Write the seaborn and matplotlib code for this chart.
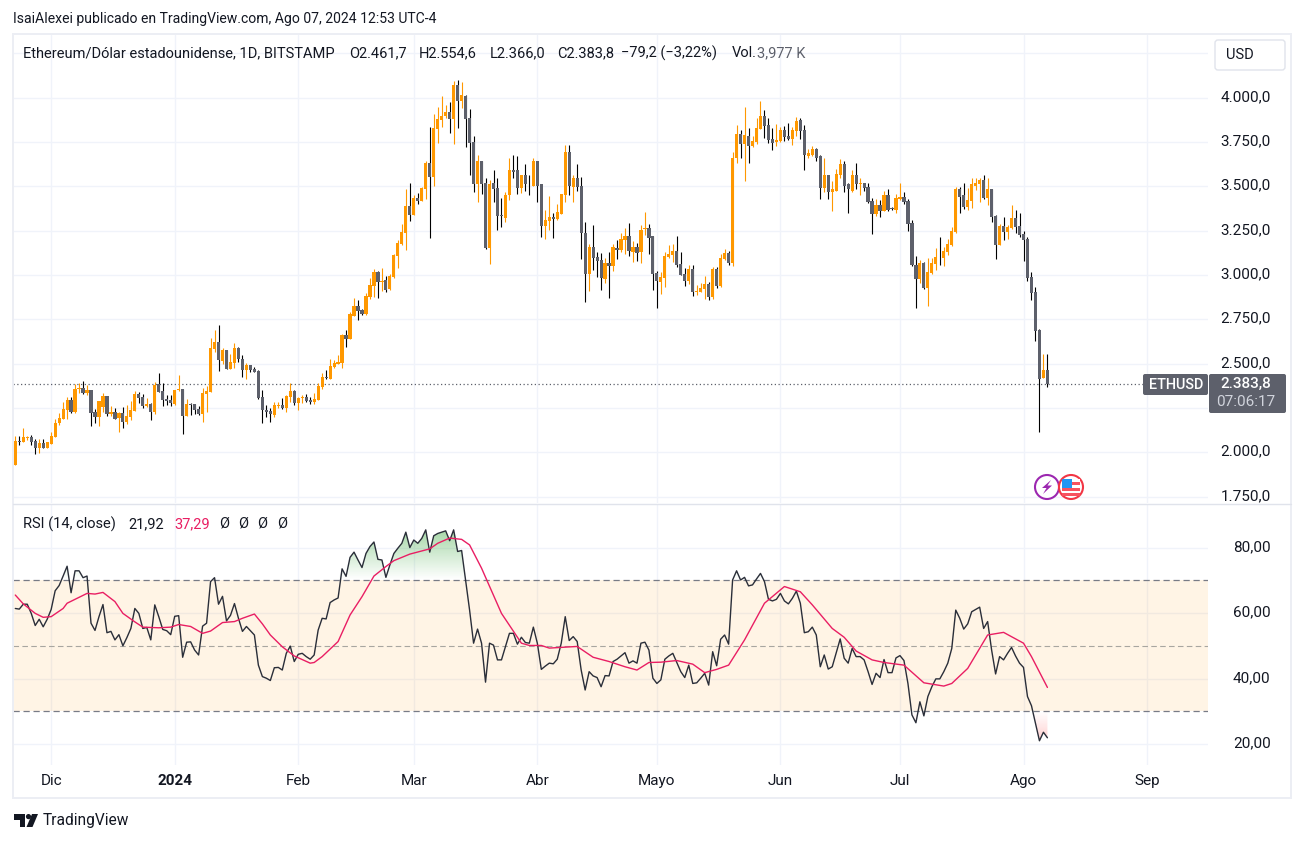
import numpy as np
import pandas as pd
import matplotlib
matplotlib.use("Agg")
import matplotlib.pyplot as plt
import matplotlib.dates as mdates
from matplotlib.patches import Rectangle, FancyBboxPatch, Circle, Polygon
from matplotlib.colors import LinearSegmentedColormap
from matplotlib.transforms import ScaledTranslation
import seaborn as sns

# ETH/USD daily candles (22 Nov 2023 -> 7 Aug 2024)
opens = [
    1929, 2064, 2058, 2083, 2085, 2064, 2024, 2053, 2024, 2047,
    2087, 2165, 2188, 2239, 2295, 2228, 2359, 2363, 2335, 2352,
    2228, 2199, 2256, 2318, 2216, 2228, 2194, 2222, 2171, 2199,
    2233, 2329, 2312, 2261, 2273, 2228, 2385, 2346, 2301, 2295,
    2273, 2350, 2357, 2205, 2275, 2273, 2244, 2216, 2329, 2340,
    2583, 2622, 2515, 2577, 2470, 2504, 2588, 2526, 2464, 2493,
    2470, 2459, 2312, 2239, 2233, 2211, 2261, 2267, 2250, 2312,
    2346, 2278, 2308, 2312, 2295, 2284, 2295, 2369, 2423, 2414,
    2481, 2498, 2504, 2662, 2640, 2769, 2825, 2803, 2780, 2876,
    2938, 3018, 2961, 2972, 2922, 2989, 3108, 3176, 3238, 3391,
    3340, 3436, 3419, 3487, 3634, 3555, 3821, 3872, 3894, 3917,
    3877, 4070, 3979, 4007, 3883, 3747, 3515, 3645, 3521, 3153,
    3521, 3493, 3340, 3323, 3453, 3594, 3589, 3493, 3561, 3515,
    3504, 3645, 3510, 3278, 3306, 3329, 3317, 3346, 3453, 3696,
    3498, 3549, 3504, 3238, 3006, 3159, 3103, 3086, 2978, 3069,
    3052, 3153, 3142, 3199, 3221, 3131, 3159, 3131, 3261, 3267,
    3221, 3012, 2961, 2984, 3102, 3114, 3136, 3063, 3007, 2967,
    3035, 2905, 2905, 2922, 2950, 2876, 3035, 2939, 3091, 3125,
    3069, 3662, 3793, 3736, 3781, 3725, 3747, 3821, 3894, 3843,
    3764, 3747, 3753, 3815, 3781, 3764, 3809, 3872, 3815, 3668,
    3679, 3708, 3668, 3493, 3561, 3465, 3476, 3561, 3623, 3510,
    3476, 3561, 3510, 3521, 3498, 3419, 3346, 3397, 3363, 3448,
    3378, 3368, 3431, 3442, 3419, 3295, 3057, 2978, 3069, 2927,
    3012, 3063, 3103, 3097, 3131, 3170, 3244, 3487, 3448, 3385,
    3419, 3504, 3515, 3538, 3436, 3487, 3334, 3170, 3278, 3244,
    3267, 3323, 3278, 3233, 3204, 2989, 2905, 2690, 2418, 2461.7,
]
highs = [
    2092, 2092, 2137, 2094, 2098, 2075, 2075, 2075, 2058, 2115,
    2188, 2222, 2284, 2312, 2312, 2385, 2391, 2402, 2380, 2352,
    2244, 2290, 2335, 2318, 2261, 2250, 2228, 2256, 2267, 2290,
    2346, 2340, 2329, 2306, 2278, 2397, 2447, 2391, 2323, 2323,
    2352, 2436, 2357, 2301, 2278, 2273, 2261, 2363, 2374, 2645,
    2690, 2718, 2588, 2577, 2555, 2617, 2594, 2549, 2504, 2493,
    2481, 2464, 2352, 2267, 2250, 2284, 2284, 2306, 2323, 2391,
    2352, 2312, 2323, 2329, 2312, 2335, 2391, 2447, 2464, 2526,
    2521, 2549, 2667, 2690, 2791, 2871, 2859, 2808, 2899, 2984,
    3035, 3023, 3040, 2995, 3006, 3119, 3199, 3289, 3487, 3521,
    3453, 3464, 3498, 3645, 3832, 3905, 3945, 4007, 3956, 3973,
    4092, 4098, 4086, 4013, 3934, 3781, 3679, 3645, 3549, 3538,
    3589, 3549, 3436, 3470, 3662, 3679, 3668, 3566, 3623, 3566,
    3657, 3645, 3510, 3368, 3447, 3351, 3402, 3459, 3730, 3730,
    3566, 3623, 3555, 3300, 3176, 3283, 3131, 3125, 3097, 3131,
    3176, 3199, 3238, 3267, 3295, 3193, 3182, 3283, 3357, 3289,
    3221, 3023, 3018, 3131, 3170, 3176, 3221, 3131, 3040, 3057,
    3057, 2944, 2956, 2995, 2961, 3046, 3046, 3120, 3148, 3137,
    3696, 3843, 3815, 3945, 3826, 3781, 3883, 3979, 3928, 3883,
    3826, 3849, 3832, 3838, 3855, 3832, 3889, 3883, 3843, 3708,
    3725, 3713, 3674, 3657, 3561, 3532, 3595, 3651, 3640, 3521,
    3589, 3629, 3549, 3521, 3521, 3436, 3431, 3425, 3476, 3487,
    3385, 3459, 3521, 3465, 3431, 3312, 3108, 3086, 3074, 3097,
    3097, 3153, 3216, 3159, 3204, 3272, 3498, 3498, 3521, 3493,
    3544, 3544, 3549, 3566, 3544, 3487, 3340, 3289, 3329, 3284,
    3397, 3368, 3351, 3250, 3216, 3018, 2933, 2695, 2554, 2554.6,
]
lows = [
    1929, 2041, 2058, 2071, 2041, 1991, 1996, 2024, 2024, 2047,
    2087, 2154, 2188, 2188, 2222, 2222, 2335, 2329, 2323, 2149,
    2165, 2149, 2228, 2205, 2205, 2188, 2115, 2137, 2160, 2182,
    2233, 2278, 2250, 2256, 2182, 2216, 2340, 2261, 2267, 2261,
    2267, 2346, 2103, 2205, 2211, 2216, 2211, 2171, 2228, 2340,
    2566, 2459, 2498, 2470, 2470, 2476, 2510, 2425, 2414, 2453,
    2453, 2301, 2165, 2199, 2171, 2199, 2250, 2244, 2228, 2284,
    2267, 2239, 2278, 2284, 2273, 2273, 2295, 2357, 2414, 2414,
    2476, 2498, 2476, 2594, 2640, 2769, 2746, 2775, 2775, 2865,
    2876, 2871, 2910, 2905, 2916, 2984, 3040, 3170, 3142, 3306,
    3340, 3402, 3419, 3431, 3210, 3504, 3742, 3832, 3883, 3798,
    3736, 3826, 3939, 3719, 3566, 3470, 3414, 3459, 3148, 3063,
    3414, 3255, 3272, 3300, 3425, 3549, 3459, 3464, 3476, 3453,
    3504, 3414, 3216, 3204, 3255, 3210, 3312, 3346, 3414, 3453,
    3414, 3476, 3091, 2848, 2910, 3029, 2989, 2916, 2955, 2871,
    3023, 3091, 3131, 3119, 3108, 3074, 3080, 3069, 3227, 3119,
    2916, 2814, 2893, 2933, 3097, 3074, 3046, 3001, 2939, 2950,
    2882, 2888, 2905, 2865, 2859, 2865, 2927, 2933, 3086, 3057,
    3052, 3629, 3657, 3532, 3634, 3719, 3736, 3821, 3770, 3742,
    3702, 3725, 3747, 3753, 3759, 3730, 3781, 3764, 3589, 3662,
    3668, 3645, 3431, 3465, 3431, 3363, 3476, 3544, 3465, 3351,
    3470, 3487, 3448, 3476, 3408, 3233, 3334, 3329, 3363, 3363,
    3368, 3351, 3425, 3402, 3250, 3052, 2814, 2956, 2922, 2826,
    3007, 3029, 3057, 3052, 3114, 3165, 3238, 3351, 3374, 3368,
    3380, 3481, 3414, 3431, 3397, 3301, 3091, 3170, 3199, 3204,
    3261, 3238, 3216, 3080, 2967, 2859, 2628, 2113, 2418, 2366.0,
]
closes = [
    2064, 2060, 2085, 2087, 2058, 2024, 2053, 2024, 2058, 2092,
    2164, 2194, 2244, 2295, 2228, 2357, 2363, 2335, 2352, 2222,
    2199, 2290, 2318, 2216, 2228, 2188, 2222, 2171, 2205, 2239,
    2329, 2306, 2261, 2273, 2228, 2380, 2340, 2295, 2290, 2278,
    2352, 2357, 2205, 2273, 2269, 2239, 2216, 2335, 2346, 2588,
    2622, 2521, 2577, 2470, 2510, 2588, 2526, 2464, 2493, 2464,
    2453, 2306, 2239, 2228, 2216, 2267, 2267, 2250, 2318, 2346,
    2278, 2306, 2312, 2290, 2284, 2301, 2374, 2425, 2417, 2487,
    2504, 2510, 2662, 2639, 2780, 2825, 2799, 2780, 2882, 2944,
    3018, 2961, 2967, 2916, 2995, 3114, 3182, 3244, 3391, 3340,
    3436, 3419, 3493, 3634, 3555, 3826, 3877, 3894, 3917, 3877,
    4070, 3979, 4013, 3877, 3742, 3515, 3645, 3515, 3153, 3515,
    3487, 3334, 3334, 3453, 3594, 3583, 3493, 3561, 3510, 3510,
    3645, 3504, 3278, 3312, 3329, 3317, 3357, 3459, 3696, 3504,
    3549, 3498, 3238, 3006, 3159, 3097, 3080, 2984, 3069, 3052,
    3159, 3142, 3204, 3221, 3136, 3159, 3125, 3255, 3267, 3210,
    3006, 2967, 2989, 3108, 3119, 3136, 3057, 3001, 2967, 3035,
    2905, 2910, 2927, 2950, 2876, 3035, 2939, 3097, 3125, 3069,
    3662, 3793, 3736, 3787, 3725, 3753, 3826, 3894, 3838, 3759,
    3742, 3759, 3815, 3776, 3764, 3815, 3866, 3809, 3674, 3685,
    3708, 3662, 3493, 3561, 3465, 3482, 3572, 3623, 3504, 3482,
    3561, 3510, 3521, 3493, 3414, 3346, 3397, 3363, 3448, 3368,
    3374, 3436, 3442, 3414, 3289, 3057, 2978, 3069, 2927, 3018,
    3069, 3103, 3099, 3137, 3176, 3250, 3487, 3442, 3385, 3425,
    3510, 3521, 3538, 3436, 3487, 3329, 3170, 3278, 3244, 3272,
    3323, 3272, 3227, 3199, 2984, 2899, 2684, 2413, 2464, 2383.8,
]

rsi_values = [
    61.4, 61.2, 62.7, 62.7, 59.9, 56.2, 58.1, 55.8, 58.1, 61.1,
    66.8, 68.4, 71.3, 74.3, 66.2, 72.9, 72.9, 70.8, 71.3, 56.9,
    54.7, 58.9, 62.6, 54.0, 54.4, 51.8, 53.4, 50.0, 52.5, 55.3,
    61.4, 59.9, 55.3, 55.6, 51.8, 62.5, 58.9, 55.0, 54.6, 53.4,
    59.0, 59.2, 46.5, 51.1, 51.2, 48.7, 47.2, 56.0, 56.9, 69.6,
    70.8, 62.7, 65.1, 57.6, 59.3, 62.9, 58.4, 54.4, 55.9, 54.6,
    53.3, 44.1, 40.6, 40.1, 39.4, 43.3, 43.4, 42.6, 47.7, 49.9,
    45.2, 47.4, 47.7, 46.7, 45.9, 47.2, 54.8, 58.4, 58.2, 63.2,
    64.0, 64.6, 73.5, 71.2, 77.0, 78.6, 76.2, 73.9, 78.2, 80.3,
    81.7, 76.4, 76.2, 70.9, 74.7, 78.2, 79.8, 81.3, 84.7, 80.0,
    82.3, 81.3, 82.8, 85.4, 78.6, 83.6, 84.3, 84.7, 85.1, 82.1,
    85.4, 78.8, 79.1, 70.1, 60.9, 50.8, 55.1, 50.8, 38.9, 50.8,
    50.2, 45.7, 45.7, 49.7, 53.8, 53.8, 50.5, 52.6, 51.0, 50.8,
    55.7, 50.8, 42.8, 43.8, 44.7, 44.5, 45.9, 50.8, 58.9, 51.6,
    52.8, 51.3, 42.6, 36.5, 42.1, 40.8, 40.3, 37.5, 40.9, 40.8,
    45.2, 45.9, 46.9, 47.9, 44.7, 45.4, 44.7, 50.8, 51.1, 48.7,
    40.1, 38.5, 39.6, 45.9, 46.9, 47.7, 44.9, 42.1, 40.3, 44.1,
    38.5, 38.7, 40.1, 41.6, 38.0, 48.2, 43.9, 52.0, 53.3, 50.5,
    70.1, 72.9, 70.1, 70.9, 68.3, 68.6, 70.4, 72.1, 69.6, 64.2,
    63.7, 64.2, 66.0, 63.7, 62.8, 64.5, 66.7, 63.0, 54.0, 54.3,
    55.7, 53.3, 43.6, 47.2, 42.9, 43.6, 47.9, 52.1, 46.2, 44.7,
    49.2, 46.7, 46.7, 45.7, 42.1, 38.2, 41.6, 40.3, 45.8, 41.8,
    41.8, 46.3, 47.0, 45.5, 38.5, 28.9, 26.5, 32.9, 28.6, 34.5,
    37.5, 39.9, 39.9, 42.1, 44.7, 49.2, 60.9, 58.4, 55.1, 56.7,
    60.4, 61.1, 61.8, 55.3, 57.4, 48.7, 41.4, 46.7, 45.7, 47.7,
    49.5, 46.9, 44.7, 43.4, 34.5, 31.7, 26.3, 21.0, 23.6, 21.92,
]

# RSI moving average, read at its visible bends (candle number, value)
ma_candle = [
    1, 3, 6, 8, 10, 13, 14, 17, 19, 21, 23, 26, 28, 31, 33, 37, 40, 42, 45, 48,
    50, 53, 56, 58, 61, 63, 65, 68, 71, 75, 76, 78, 82, 85, 88, 91, 94, 96, 100,
    105, 107, 110, 113, 115, 118, 123, 128, 130, 133, 135, 142, 146, 150, 154,
    157, 160, 163, 167, 171, 174, 177, 180, 184, 189, 194, 198, 201, 206, 209,
    212, 216, 219, 224, 229, 234, 236, 240, 245, 249, 254, 256, 260,
]
ma_values = [
    65.5, 62.8, 59.9, 58.7, 58.9, 61.4, 63.0, 64.8, 66.0, 65.8, 66.3, 63.5, 59.9,
    57.3, 55.7, 55.5, 55.7, 56.5, 55.9, 53.8, 54.5, 57.1, 57.4, 58.4, 59.7, 56.7,
    53.3, 49.7, 46.9, 44.7, 44.9, 46.7, 51.3, 59.4, 65.0, 71.3, 74.2, 76.0, 78.0,
    79.6, 81.3, 82.9, 82.5, 80.8, 73.7, 59.9, 50.8, 50.1, 50.1, 49.3, 49.8, 46.5,
    45.2, 43.6, 42.6, 44.9, 45.0, 45.5, 44.4, 41.8, 42.8, 44.1, 51.8, 63.0, 68.1,
    66.5, 62.5, 55.3, 52.6, 48.4, 45.7, 44.9, 44.1, 38.7, 37.7, 38.5, 43.1, 53.3,
    54.1, 50.8, 46.7, 37.29,
]

last_date = "2024-08-07"
last_close = 2383.8
price_ticks = [1750, 2000, 2250, 2500, 2750, 3000, 3250, 3500, 3750, 4000, 4250]
hidden_price_ticks = [2250, 4250]  # covered by the price tag and the USD button
rsi_ticks = [20, 40, 60, 80]
month_starts = ["2023-12-01", "2024-01-01", "2024-02-01", "2024-03-01", "2024-04-01",
                "2024-05-01", "2024-06-01", "2024-07-01", "2024-08-01", "2024-09-01"]
month_labels = ["Dic", "2024", "Feb", "Mar", "Abr", "Mayo", "Jun", "Jul", "Ago", "Sep"]

UP = "#ff9800"
DOWN = "#5d606b"
GRID = "#f0f3fa"
TEXT = "#131722"
FONT = "Roboto"
AXIS_SIZE = 11.0
LEGEND_SIZE = 10.5

sns.set_theme(style="white")
plt.rcParams["font.family"] = [FONT, "DejaVu Sans"]

W, H = 1304, 842
fig = plt.figure(figsize=(W / 100, H / 100), dpi=100, facecolor="white")


def axes_px(left, top, right, bottom):
    return fig.add_axes([left / W, 1 - bottom / H, (right - left) / W, (bottom - top) / H])


def price_fmt(v):
    return f"{v:,.1f}".replace(",", "X").replace(".", ",").replace("X", ".")


def price_tick(v):
    return "" if v in hidden_price_ticks else price_fmt(v)


dates = pd.date_range(end=last_date, periods=len(closes))
xnum = mdates.date2num(dates)
month_num = mdates.date2num(pd.to_datetime(month_starts))
# 3.985 px per day, first candle sits at x=15.3
xlim = (xnum[0] - 2.3 / 3.985, xnum[0] + (1208 - 15.3) / 3.985)

ohlc = pd.DataFrame({"x": xnum, "o": opens, "h": highs, "l": lows, "c": closes})
ohlc["up"] = ohlc["c"] >= ohlc["o"]

# price panel
ax = axes_px(13, 35, 1208, 503)
ax.set_facecolor("white")
for up, part in ohlc.groupby("up"):
    wick = UP if up else "#000000"
    body = UP if up else DOWN
    ax.vlines(part["x"], part["l"], part["h"], color=wick, lw=0.8, zorder=3)
    ax.bar(part["x"], (part["c"] - part["o"]).abs(), bottom=part[["o", "c"]].min(axis=1),
           width=0.8, color=body, linewidth=0, zorder=4)
ax.axhline(last_close, color=DOWN, lw=0.9, ls=(0, (1, 2)), zorder=2)
ax.set_xlim(xlim)
ax.set_ylim(1714, 4353)

# RSI panel
ax_rsi = axes_px(13, 504, 1208, 765)
ax_rsi.set_facecolor("white")
ax_rsi.axhspan(30, 70, color="#ff9800", alpha=0.1, lw=0, zorder=1)
for level, col, lw in [(70, "#787b86", 0.9), (30, "#787b86", 0.9), (50, "#a8a6a0", 0.8)]:
    ax_rsi.axhline(level, color=col, lw=lw, ls=(0, (5, 3)), zorder=2)

rsi_arr = np.array(rsi_values)
overbought = ax_rsi.fill_between(xnum, 70, np.maximum(rsi_arr, 70), color="none", lw=0)
oversold = ax_rsi.fill_between(xnum, 30, np.minimum(rsi_arr, 30), color="none", lw=0)
green = LinearSegmentedColormap.from_list("g", [(0.30, 0.69, 0.31, 0.50), (0.30, 0.69, 0.31, 0.0)])
red = LinearSegmentedColormap.from_list("r", [(1.0, 0.32, 0.32, 0.0), (1.0, 0.32, 0.32, 0.30)])
ramp = np.linspace(0, 1, 64).reshape(-1, 1)
im_g = ax_rsi.imshow(ramp, cmap=green, aspect="auto", extent=(xnum[0], xnum[-1], 70, 85.5),
                     origin="upper", zorder=2)
im_g.set_clip_path(overbought.get_paths()[0], transform=ax_rsi.transData)
im_r = ax_rsi.imshow(ramp, cmap=red, aspect="auto", extent=(xnum[0], xnum[-1], 20, 30),
                     origin="upper", zorder=2)
im_r.set_clip_path(oversold.get_paths()[0], transform=ax_rsi.transData)

rsi_df = pd.DataFrame({"x": xnum, "rsi": rsi_values})
ma_df = pd.DataFrame({"x": xnum[np.array(ma_candle) - 1], "ma": ma_values})
sns.lineplot(data=rsi_df, x="x", y="rsi", ax=ax_rsi, color="#2a2e39", lw=1.0, zorder=4, errorbar=None)
sns.lineplot(data=ma_df, x="x", y="ma", ax=ax_rsi, color="#e91e63", lw=1.0, zorder=5, errorbar=None)
ax_rsi.set_xlim(xlim)
ax_rsi.set_ylim(13.6, 93.3)
ax_rsi.set_xlabel("")
ax_rsi.set_ylabel("")

# shared axis styling
nudge_up = ScaledTranslation(0, 2 / 100, fig.dpi_scale_trans)
for a, ticks, fmt in [(ax, price_ticks, price_tick), (ax_rsi, rsi_ticks, lambda v: f"{v},00")]:
    a.yaxis.tick_right()
    a.set_yticks(ticks)
    a.set_yticklabels([fmt(t) for t in ticks], ha="right", fontsize=AXIS_SIZE, color=TEXT)
    a.tick_params(axis="y", length=0, pad=45)
    for t in a.get_yticklabels():
        t.set_transform(t.get_transform() + nudge_up)
    a.set_xticks(month_num)
    a.grid(True, color=GRID, lw=1.0, zorder=0)
    a.set_axisbelow(True)
    for s in a.spines.values():
        s.set_visible(False)
ax.tick_params(axis="x", length=0, labelbottom=False)
ax_rsi.set_xticklabels(month_labels, fontsize=AXIS_SIZE, color=TEXT)
ax_rsi.get_xticklabels()[1].set_fontweight("bold")
ax_rsi.tick_params(axis="x", length=0, pad=6.5)

# overlay in figure pixels for frame, labels and badges
ov = fig.add_axes([0, 0, 1, 1], zorder=10)
ov.set_xlim(0, W)
ov.set_ylim(H, 0)
ov.axis("off")
ov.patch.set_alpha(0)

ov.add_patch(Rectangle((13, 34), 1278, 764, fill=False, ec="#eceef4", lw=1.4))
ov.plot([13, 1291], [503.5, 503.5], color="#e0e3eb", lw=1.0)


def label(x, y, s, color=TEXT, size=LEGEND_SIZE, **kw):
    ov.text(x, y, s, color=color, fontsize=size, va="center", **kw)


label(13, 19, "IsaiAlexei publicado en TradingView.com, Ago 07, 2024 12:53 UTC-4", size=10.1)
label(23, 53, "Ethereum/Dólar estadounidense, 1D, BITSTAMP")
label(349, 53, "O2.461,7")
label(419, 53, "H2.554,6")
label(490, 53, "L2.366,0")
label(557, 53, "C2.383,8")
label(621, 53, "−79,2 (−3,22%)")
label(732, 53, "Vol.")
label(757, 53, "3,977 K", color="#5d606b")

label(23, 524, "RSI (14, close)")
label(128, 524, "21,92")
label(174, 524, "37,29", color="#e91e63")
for ox in [224, 243, 262, 282]:
    label(ox, 524, "Ø", ha="center")

# USD button and last price tags
ov.add_patch(FancyBboxPatch((1215, 40), 70, 30, boxstyle="round,pad=0,rounding_size=3",
                            fc="white", ec="#e0e3eb", lw=1.0))
label(1226, 55, "USD")
ov.add_patch(FancyBboxPatch((1143, 374), 65, 21, boxstyle="round,pad=0,rounding_size=2",
                            fc=DOWN, ec="none"))
ov.add_patch(FancyBboxPatch((1209, 374), 77, 39, boxstyle="round,pad=0,rounding_size=2",
                            fc=DOWN, ec="none"))
ov.text(1176, 385, "ETHUSD", color="white", fontsize=10.4, ha="center", va="center", fontweight="medium")
ov.text(1246, 384, price_fmt(last_close), color="white", fontsize=11, ha="center", va="center", fontweight="medium")
ov.text(1246, 402, "07:06:17", color="#d1d4dc", fontsize=11, ha="center", va="center")

# event badges
ov.add_patch(Circle((1047, 487), 12, fc="white", ec="#9c27b0", lw=1.5))
ov.add_patch(Polygon([(1051, 480), (1042, 488), (1046.5, 488), (1043, 494), (1052, 485.5), (1047.5, 485.5)],
                     fc="#9c27b0", ec="none"))
ov.add_patch(Circle((1071, 487), 12, fc="white", ec="#f23645", lw=1.5, zorder=3))
ov.add_patch(Rectangle((1062, 478.5), 18, 17, fc="white", ec="none", zorder=3))
for fy in [482, 488, 493]:
    ov.add_patch(Rectangle((1062, fy), 18, 2.8, fc="#f7525f", ec="none", zorder=4))
ov.add_patch(Rectangle((1061.5, 478.5), 10.5, 9, fc="#2196f3", ec="none", zorder=5))

# footer logo
ov.add_patch(Polygon([(14, 814), (25, 814), (25, 827), (19.5, 827), (19.5, 819.5), (14, 819.5)], fc=TEXT, ec="none"))
ov.add_patch(Circle((28.5, 816.6), 2.6, fc=TEXT, ec="none"))
ov.add_patch(Polygon([(32, 814), (38, 814), (32.5, 827), (26.5, 827)], fc=TEXT, ec="none"))
label(43, 821, "TradingView", size=11.2)

fig.savefig("out.png", dpi=100)
